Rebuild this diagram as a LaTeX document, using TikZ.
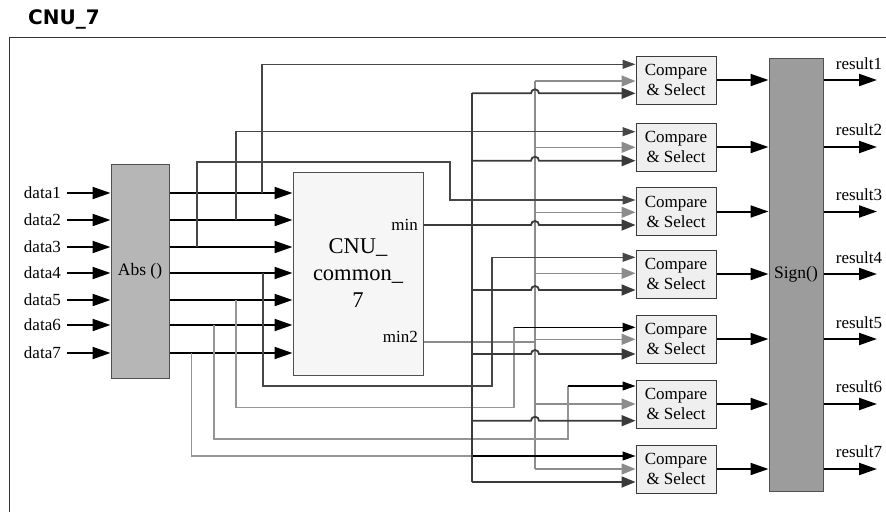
\documentclass[tikz,border=0pt]{standalone}
\usepackage{fontspec}
\setmainfont{Liberation Serif}
\newfontfamily\titlefont{DejaVu Sans}
\usetikzlibrary{arrows.meta,calc}
\definecolor{absgray}{HTML}{B6B6B6}
\definecolor{signgray}{HTML}{9C9C9C}
\definecolor{cnufill}{HTML}{F6F6F6}
\definecolor{csfill}{HTML}{EFEFEF}
\definecolor{busgray}{HTML}{8C8C8C}
\definecolor{busdark}{HTML}{3A3A3A}
\definecolor{tapdark}{HTML}{474747}
\definecolor{taplight}{HTML}{959595}
\definecolor{edge}{HTML}{505050}
\begin{document}
\begin{tikzpicture}[x=1pt,y=-1pt,
  lbl/.style={font=\fontsize{17}{19}\selectfont, inner sep=0pt},
  absbox/.style={draw=edge, line width=1pt, fill=absgray, minimum width=58pt, minimum height=214pt, inner sep=0pt, font=\fontsize{17.5}{20}\selectfont},
  signbox/.style={draw=edge, line width=1pt, fill=signgray, minimum width=54pt, minimum height=433pt, inner sep=0pt, font=\fontsize{17.5}{20}\selectfont},
  cnubox/.style={draw=edge, line width=1pt, fill=cnufill, minimum width=130pt, minimum height=203pt, inner sep=0pt},
  csbox/.style={draw=busdark, line width=1pt, fill=csfill, minimum width=80pt, minimum height=48pt, inner sep=0pt, align=center, font=\fontsize{17}{20}\selectfont},
  bigarrow/.style={line width=2pt, -{Triangle[length=18pt,width=12pt]}},
  tap/.style={line width=1.2pt, draw=tapdark, -{Triangle[length=13pt,width=9pt]}},
  tapl/.style={line width=1.2pt, draw=taplight},
  inblack/.style={line width=1.2pt, -{Triangle[length=13pt,width=9pt]}},
  busg/.style={line width=1.5pt, draw=busgray},
  busd/.style={line width=1.5pt, draw=busdark},
  ingray/.style={busg, -{Triangle[length=14pt,width=11pt, fill=busgray]}},
  indark/.style={busd, line width=1.8pt, -{Triangle[length=14pt,width=11pt, fill=busdark]}},
]
\useasboundingbox (0,0) rectangle (886,512);
% title and frame
\node[font=\titlefont\bfseries\fontsize{20}{22}\selectfont, anchor=west, inner sep=0pt] (title) at (28,19) {CNU\_7};
\draw[line width=1.3pt, draw=black!80] (886,37.5) -- (9.5,37.5) -- (9.5,512);

% blocks
\node[absbox] (abs) at (140,271) {Abs ()};
\node[cnubox] (cnu) at (358,273.5) {};
\node[align=center, font=\fontsize{22.5}{26.7}\selectfont, inner sep=0pt] (cnut) at (358,273) {CNU\_\\common\_\\7};
\node[lbl, anchor=east] (min) at (418,225) {min};
\node[lbl, anchor=east] (min2) at (418,337) {min2};
\node[signbox] (sign) at (796,274.5) {};
\node[font=\fontsize{17.5}{20}\selectfont, inner sep=0pt] (signt) at (796,274) {Sign()};

\foreach \i/\y in {1/80,2/147,3/211.5,4/274,5/339,6/404,7/469}{
  \node[csbox] (cs\i) at (676,\y) {Compare\\\& Select};
}

% data inputs
\foreach \i/\y in {1/193,2/220,3/247,4/273,5/300,6/325,7/353}{
  \node[lbl, anchor=east] (d\i) at (61,\y) {data\i};
  \draw[bigarrow] ([xshift=6pt]d\i.east) -- (abs.west |- d\i);
  \draw[bigarrow] (abs.east |- d\i) -- (cnu.west |- d\i);
}

% ports of the compare boxes
\foreach \i/\a/\m/\b in {1/-15.7/1/13.3, 2/-15.3/0.3/13.7, 3/-11.5/0.8/13.5, 4/-16.7/-0.7/16, 5/-11.7/0.3/15, 6/-18/0/16.7, 7/-13/0/13}{
  \coordinate (p\i a) at ($(cs\i.west)+(0,\a)$);
  \coordinate (p\i m) at ($(cs\i.west)+(0,\m)$);
  \coordinate (p\i b) at ($(cs\i.west)+(0,\b)$);
}

% helper coordinates
\coordinate (x1) at (262,0);
\coordinate (x2) at (236,0);
\coordinate (x3) at (197,0);
\coordinate (x3b) at (450,0);
\coordinate (h3) at (0,162);
\coordinate (x4) at (263,0);
\coordinate (x4b) at (492,0);
\coordinate (h4) at (0,386);
\coordinate (x5) at (236,0);
\coordinate (x5b) at (514,0);
\coordinate (h5) at (0,407.5);
\coordinate (x6) at (214,0);
\coordinate (x6b) at (568,0);
\coordinate (h6) at (0,439);
\coordinate (x7) at (191.5,0);
\coordinate (bus1) at (472,0);
\coordinate (bus2) at (535,0);
\coordinate (m2) at (0,342);

% min2 bus (gray)
\draw[busg] (cnu.east |- m2) -- (bus2 |- m2);
\draw[busg] (bus2 |- p1m) -- (bus2 |- p7m);
\foreach \i in {1,...,7}{
  \draw[ingray] (bus2 |- p\i m) -- (p\i m);
}

% taps of |data| to the compare boxes
\draw[tap] (x1 |- d1) -- (x1 |- p1a) -- (p1a);
\draw[tap] (x2 |- d2) -- (x2 |- p2a) -- (p2a);
\draw[tap] (x3 |- d3) -- (x3 |- h3) -- (x3b |- h3) -- (x3b |- p3a) -- (p3a);
\draw[tap] (x4 |- d4) -- (x4 |- h4) -- (x4b |- h4) -- (x4b |- p4a) -- (p4a);
\draw[tapl] (x5 |- d5) -- (x5 |- h5) -- (x5b |- h5) -- (x5b |- p5a);
\draw[inblack] (x5b |- p5a) -- (p5a);
\draw[tapl] (x6 |- d6) -- (x6 |- h6) -- (x6b |- h6) -- (x6b |- p6a);
\draw[inblack] (x6b |- p6a) -- (p6a);
\draw[tapl] (x7 |- d7) -- (x7 |- p7a) -- (bus1 |- p7a);
\draw[inblack] (bus1 |- p7a) -- (p7a);

% min bus (dark) with hops over the min2 bus
\draw[busd] (bus1 |- p1b) -- (bus1 |- p7b);
\draw[indark] (cnu.east |- min) -- ($(bus2 |- p3b)+(-4,0)$) arc[start angle=180, end angle=0, radius=4pt] -- (p3b);
\foreach \i in {1,2,4,5,6}{
  \draw[indark] (bus1 |- p\i b) -- ($(bus2 |- p\i b)+(-4,0)$) arc[start angle=180, end angle=0, radius=4pt] -- (p\i b);
}
\draw[indark] (bus1 |- p7b) -- (p7b);

% outputs
\coordinate (oend) at (877,0);
\foreach \i/\ly in {1/64,2/130,3/195,4/258,5/322.7,6/387,7/451.7}{
  \draw[bigarrow] (cs\i.east) -- (sign.west |- cs\i.east);
  \draw[bigarrow] (sign.east |- cs\i.east) -- (oend |- cs\i.east);
  \node[lbl] (r\i) at (859,\ly) {result\i};
}
\end{tikzpicture}
\end{document}
